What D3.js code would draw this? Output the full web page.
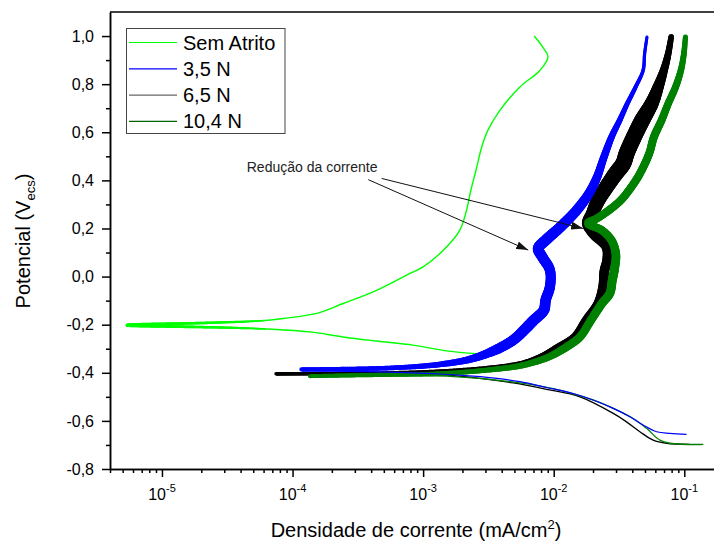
<!DOCTYPE html>
<html>
<head>
<meta charset="utf-8">
<script src="https://cdn.jsdelivr.net/npm/d3@7"></script>
<style>
  body { margin: 0; background: #fff; }
  svg { font-family: "Liberation Sans", Arial, sans-serif; }
</style>
</head>
<body>
<div id="chart"></div>
<script>
// current density (mA/cm2), potential (V ecs)
var semAtrito = [
  [2.9e-3,-0.323],[1.51e-3,-0.309],[8.36e-4,-0.285],[4.40e-4,-0.268],[2.44e-4,-0.251],
  [1.36e-4,-0.230],[7.55e-5,-0.220],[3.52e-5,-0.213],[5.37e-6,-0.202],[2.33e-5,-0.192],
  [5.62e-5,-0.184],[8.5e-5,-0.174],[1.53e-4,-0.153],[2.44e-4,-0.112],[4.40e-4,-0.057],
  [7.93e-4,0.013],[1.0e-3,0.040],[1.51e-3,0.123],[1.91e-3,0.193],[2.15e-3,0.276],
  [2.32e-3,0.359],[2.54e-3,0.442],[2.81e-3,0.539],[3.13e-3,0.608],[3.87e-3,0.691],
  [5.51e-3,0.788],[7.83e-3,0.857],[9.04e-3,0.913],[8.26e-3,0.953],[7.1e-3,1.0]
];

var n35Cat = [
  [1.17e-4,-0.392],[4.67e-4,-0.396],[1.35e-3,-0.405],[2.42e-3,-0.414],[3.66e-3,-0.423],
  [5.51e-3,-0.437],[8.83e-3,-0.461],[1.41e-2,-0.486],[2.00e-2,-0.513],[2.86e-2,-0.548],
  [3.83e-2,-0.583],[4.84e-2,-0.617],[6.14e-2,-0.645],[7.76e-2,-0.652],[1.04e-1,-0.656]
];
var n35Ano = [
  [1.17e-4,-0.386],[5.57e-4,-0.380],[1.35e-3,-0.365],[2.35e-3,-0.342],[3.55e-3,-0.306],
  [4.90e-3,-0.264],[5.92e-3,-0.223],[7.04e-3,-0.181],[8.41e-3,-0.140],[8.67e-3,-0.098],
  [9.35e-3,-0.043],[9.35e-3,0.027],[8.17e-3,0.082],[7.60e-3,0.117],[8.67e-3,0.151],
  [1.13e-2,0.207],[1.50e-2,0.276],[1.86e-2,0.345],[2.15e-2,0.414],[2.40e-2,0.490],
  [2.77e-2,0.580],[3.20e-2,0.650],[3.66e-2,0.719],[4.24e-2,0.788],
  [4.84e-2,0.858],[4.97e-2,0.927],[5.18e-2,0.996]
];

var n65Cat = [
  [7.46e-5,-0.410],[4.67e-4,-0.403],[1.51e-3,-0.410],[2.72e-3,-0.423],[4.90e-3,-0.442],
  [8.83e-3,-0.469],[1.59e-2,-0.500],[2.86e-2,-0.569],[3.61e-2,-0.604],[4.57e-2,-0.645],
  [5.78e-2,-0.680],[7.31e-2,-0.693],[1.10e-1,-0.698]
];
var n65Ano = [
  [7.46e-5,-0.404],[3.28e-4,-0.403],[5.90e-4,-0.400],[1.06e-3,-0.396],[1.91e-3,-0.389],
  [3.44e-3,-0.378],[5.71e-3,-0.361],[7.98e-3,-0.334],[1.11e-2,-0.292],[1.45e-2,-0.251],
  [1.77e-2,-0.181],[2.18e-2,-0.112],[2.38e-2,-0.043],[2.45e-2,0.027],[2.57e-2,0.068],
  [2.54e-2,0.123],[2.00e-2,0.179],[1.81e-2,0.221],[1.97e-2,0.262],[2.19e-2,0.317],
  [2.54e-2,0.373],[2.98e-2,0.428],[3.41e-2,0.470],[3.61e-2,0.511],
  [4.11e-2,0.580],[4.76e-2,0.650],[5.62e-2,0.719],[6.31e-2,0.788],[6.98e-2,0.858],
  [7.53e-2,0.927],[7.93e-2,0.996]
];

var n104Cat = [
  [1.36e-4,-0.414],[4.67e-4,-0.412],[1.51e-3,-0.414],[5.51e-3,-0.442],[8.83e-3,-0.461],
  [1.33e-2,-0.483],[2.00e-2,-0.513],[2.86e-2,-0.548],[4.06e-2,-0.590],[5.14e-2,-0.631],
  [6.50e-2,-0.680],[7.76e-2,-0.693],[1.40e-1,-0.698]
];
var n104Ano = [
  [1.36e-4,-0.414],[3.28e-4,-0.410],[5.90e-4,-0.408],[1.43e-3,-0.403],[3.06e-3,-0.389],
  [5.05e-3,-0.375],[6.58e-3,-0.361],[9.18e-3,-0.334],[1.26e-2,-0.292],[1.59e-2,-0.251],
  [1.93e-2,-0.181],[2.34e-2,-0.112],[2.69e-2,-0.070],[2.81e-2,-0.015],[2.94e-2,0.040],
  [2.99e-2,0.096],[2.77e-2,0.151],[2.33e-2,0.193],[1.83e-2,0.221],[2.13e-2,0.241],
  [2.65e-2,0.276],[3.26e-2,0.317],[3.94e-2,0.373],[4.57e-2,0.428],
  [5.38e-2,0.511],[5.85e-2,0.580],[6.70e-2,0.650],[7.53e-2,0.719],[8.57e-2,0.788],
  [9.42e-2,0.858],[9.93e-2,0.927],[1.02e-1,0.996]
];

var legendLabels = ["Sem Atrito", "3,5 N", "6,5 N", "10,4 N"];
var xMajor = [1e-5, 1e-4, 1e-3, 1e-2, 1e-1];
var yMajor = [-0.8, -0.6, -0.4, -0.2, 0.0, 0.2, 0.4, 0.6, 0.8, 1.0];
var yMinor = [-0.7, -0.5, -0.3, -0.1, 0.1, 0.3, 0.5, 0.7, 0.9];
var noteText = "Redução da corrente";
var notePos = [4.46e-5, 0.435];
var noteArrows = [
  [[4.81e-4, 0.408], [1.68e-2, 0.200]],
  [[3.80e-4, 0.403], [6.38e-3, 0.110]]
];

var W = 714, H = 542;
var svg = d3.select("#chart").append("svg")
  .attr("width", W)
  .attr("height", H);

var x = d3.scaleLog().domain([4e-6, 0.2]).range([110, 723.6]);
var y = d3.scaleLinear().domain([-0.8, 1.1]).range([469, 12]);

var locale = d3.formatLocale({decimal: ",", thousands: ".", grouping: [3], currency: ["", ""], minus: "-"});
var fmt = locale.format(".1f");

var plot = svg.append("g");

var smooth = d3.line()
  .curve(d3.curveCatmullRom.alpha(0.5))
  .x(function(d){ return x(d[0]); })
  .y(function(d){ return y(d[1]); });

function thinLine(pts, color, w){
  return plot.append("path").datum(pts).attr("d", smooth)
    .attr("fill", "none").attr("stroke", color).attr("stroke-width", w)
    .attr("stroke-linejoin", "round");
}

// noisy branch: follow the smoothed curve in short steps, width set from the potential
function band(pts, color, widthOf){
  var guide = thinLine(pts, "none", 0);
  var node = guide.node(), len = node.getTotalLength();
  var prev = node.getPointAtLength(0);
  for (var s = 2; s <= len + 2; s += 2) {
    var p = node.getPointAtLength(Math.min(s, len));
    var w = widthOf(x.invert((prev.x + p.x) / 2), y.invert((prev.y + p.y) / 2));
    if (w > 0) {
      plot.append("line")
        .attr("x1", prev.x).attr("y1", prev.y)
        .attr("x2", p.x).attr("y2", p.y)
        .attr("stroke", color)
        .attr("stroke-width", w)
        .attr("stroke-linecap", "round");
    }
    prev = p;
  }
  guide.remove();
}
function byE(sc){ return function(i, e){ return sc(e); }; }

var semW = d3.scaleLog().domain([6e-6, 4e-5, 1.3e-4]).range([3.2, 2.2, 0]).clamp(true);
var w35 = d3.scaleLinear()
  .domain([-0.39, -0.36, -0.3, -0.2, 0.0, 0.15, 0.3, 0.45, 0.55, 0.7, 0.85, 1.0])
  .range([4, 6, 10, 11, 10, 11, 10, 8, 7, 5, 3.5, 3]).clamp(true);
var w65 = d3.scaleLinear()
  .domain([-0.41, -0.37, -0.3, 0.1, 0.2, 0.3, 0.45, 0.65, 0.72, 0.79, 0.86, 0.93, 1.0])
  .range([3, 5, 8, 10, 10, 14, 16, 16, 14, 11, 8, 6.5, 5.5]).clamp(true);
var w104 = d3.scaleLinear()
  .domain([-0.414, -0.37, -0.3, 0.0, 0.2, 0.6, 0.8, 1.0])
  .range([4, 6, 8, 9, 8, 8, 7, 5]).clamp(true);

// Sem Atrito: smooth line, thicker noisy part near the corrosion potential
thinLine(semAtrito, "#00ff00", 1.4);
band(semAtrito, "#00ff00", function(i, e){
  var w = semW(i);
  return w > 1.4 ? w : 0;
});

// 6,5 N
thinLine(n65Cat, "#000000", 1.3);
band(n65Ano, "#000000", byE(w65));

// 10,4 N
thinLine(n104Cat, "#008000", 1.3);
band(n104Ano, "#008000", byE(w104));

// 3,5 N
thinLine(n35Cat, "#0000ff", 1.2);
band(n35Ano, "#0000ff", byE(w35));

// frame top
svg.append("line")
  .attr("x1", x.range()[0]).attr("x2", x.range()[1])
  .attr("y1", y.range()[1]).attr("y2", y.range()[1])
  .attr("stroke", "#000").attr("stroke-width", 1.5);

// x axis
var xMinor = x.ticks().filter(function(v){
  return xMajor.every(function(m){ return Math.abs(v / m - 1) > 1e-6; });
});
var xg = svg.append("g").attr("transform", "translate(0," + y.range()[0] + ")");
xg.call(d3.axisBottom(x).tickValues(xMinor).tickSize(4).tickSizeOuter(0).tickFormat(""));
xg.append("g").call(d3.axisBottom(x).tickValues(xMajor).tickSize(8).tickSizeOuter(0).tickFormat(""));
xg.selectAll("path,line").attr("stroke", "#000").attr("stroke-width", 1.5);

xMajor.forEach(function(v){
  var t = svg.append("text")
    .attr("x", x(v))
    .attr("y", 500)
    .attr("text-anchor", "middle")
    .attr("font-size", 16)
    .attr("fill", "#000");
  t.append("tspan").text("10");
  t.append("tspan").attr("font-size", 11).attr("dy", -8).text(String(Math.round(Math.log10(v))));
});

// y axis
var yg = svg.append("g").attr("transform", "translate(" + x.range()[0] + ",0)");
yg.call(d3.axisLeft(y).tickValues(yMinor).tickSize(4).tickSizeOuter(0).tickFormat(""));
yg.append("g").call(d3.axisLeft(y).tickValues(yMajor).tickSize(8).tickPadding(8).tickSizeOuter(0).tickFormat(fmt));
yg.selectAll("path,line").attr("stroke", "#000").attr("stroke-width", 1.5);
yg.selectAll("text").attr("font-size", 16).attr("fill", "#000")
  .attr("font-family", "Liberation Sans, Arial, sans-serif");

// axis titles
var xt = svg.append("text")
  .attr("x", 416).attr("y", 537)
  .attr("text-anchor", "middle")
  .attr("font-size", 20);
xt.append("tspan").text("Densidade de corrente (mA/cm");
xt.append("tspan").attr("font-size", 13).attr("dy", -8).text("2");
xt.append("tspan").attr("dy", 8).text(")");

var yt = svg.append("text")
  .attr("transform", "translate(30,241) rotate(-90)")
  .attr("text-anchor", "middle")
  .attr("font-size", 20);
yt.append("tspan").text("Potencial (V");
yt.append("tspan").attr("font-size", 13).attr("dy", 5).text("ecs");
yt.append("tspan").attr("dy", -5).text(")");

// annotation
svg.append("defs").append("marker")
  .attr("id", "head")
  .attr("markerUnits", "userSpaceOnUse")
  .attr("markerWidth", 12).attr("markerHeight", 8)
  .attr("refX", 12).attr("refY", 4)
  .attr("orient", "auto")
  .append("path").attr("d", "M0,0L12,4L0,8Z").attr("fill", "#111");

noteArrows.forEach(function(ar){
  svg.append("line")
    .attr("x1", x(ar[0][0])).attr("y1", y(ar[0][1]))
    .attr("x2", x(ar[1][0])).attr("y2", y(ar[1][1]))
    .attr("stroke", "#111").attr("stroke-width", 1)
    .attr("marker-end", "url(#head)");
});
svg.append("text")
  .attr("x", x(notePos[0])).attr("y", y(notePos[1]))
  .attr("font-size", 14).attr("fill", "#222")
  .text(noteText);

// legend
var legColors = ["#00ff00", "#0000ff", "#666666", "#006400"];
var leg = svg.append("g");
leg.append("rect")
  .attr("x", 126.5).attr("y", 28.5).attr("width", 158.5).attr("height", 105)
  .attr("fill", "#fff").attr("stroke", "#444").attr("stroke-width", 1);
legendLabels.forEach(function(lab, i){
  var by = 49.5 + i * 26.3;
  leg.append("line")
    .attr("x1", 129).attr("x2", 177)
    .attr("y1", by - 7).attr("y2", by - 7)
    .attr("stroke", legColors[i]).attr("stroke-width", 1.2);
  leg.append("text")
    .attr("x", 183).attr("y", by)
    .attr("font-size", 20).attr("fill", "#000")
    .text(lab);
});
</script>
</body>
</html>
